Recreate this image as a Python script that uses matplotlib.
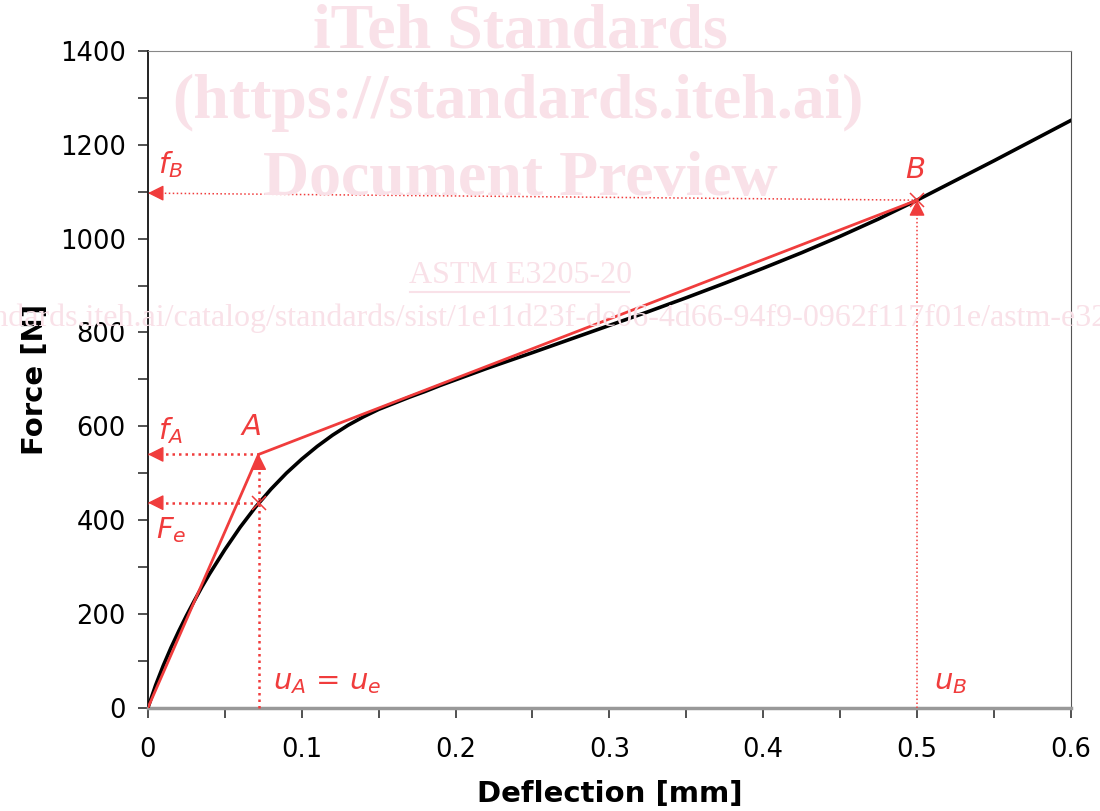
"""
Force-deflection curve with the A / B construction points (ASTM E3205 style)
"""

import matplotlib.pyplot as plt
from matplotlib.ticker import MultipleLocator

plt.rcParams["mathtext.fontset"] = "dejavusans"

# measured curve
deflection = [0, 0.005, 0.01, 0.015, 0.02, 0.025, 0.03, 0.035, 0.04, 0.05, 0.06, 0.07,
              0.08, 0.09, 0.1, 0.11, 0.12, 0.13, 0.14, 0.15, 0.16, 0.17, 0.18, 0.19,
              0.2, 0.22, 0.25, 0.275, 0.3, 0.325, 0.35, 0.375, 0.4, 0.425, 0.45, 0.475,
              0.5, 0.55, 0.6]
force = [0, 48, 90, 128, 163, 196, 227, 257, 285, 337, 385, 428,
         466, 500, 530, 557, 581, 602, 620, 636, 649, 662, 674, 687,
         699, 723, 757, 786, 815, 844, 874, 905, 937, 970, 1005, 1042,
         1082, 1166, 1252]

# construction points
u_A = 0.072
f_A = 540
F_e = 437
u_B = 0.5
f_B = 1082
f_B_axis = 1097  # where the f_B arrow meets the axis

RED = "#f03c3c"
PINK = "#f9e1e8"

fig = plt.figure(figsize=(11, 8.11), dpi=100)
ax = fig.add_axes([0.1345, 0.1274, 0.839, 0.8097])
ax.patch.set_alpha(0)

# watermark
wm = dict(family="Liberation Serif", color=PINK, ha="center", va="center", zorder=0)
fig.text(0.473, 0.960, "iTeh Standards", fontweight="bold", fontsize=46, **wm)
fig.text(0.471, 0.873, "(https://standards.iteh.ai)", fontweight="bold", fontsize=46, **wm)
fig.text(0.473, 0.778, "Document Preview", fontweight="bold", fontsize=46, **wm)
fig.text(0.473, 0.660, "ASTM E3205-20", fontsize=23, **wm)
fig.add_artist(plt.Line2D([0.373, 0.572], [0.640, 0.640], color=PINK, lw=1.5, zorder=0))
fig.text(0.478, 0.607,
         "https://standards.iteh.ai/catalog/standards/sist/1e11d23f-de06-4d66-94f9-0962f117f01e/astm-e3205-20",
         fontsize=23, **wm)

# curve
ax.plot(deflection, force, color="black", lw=2.6, zorder=3)

# bilinear construction
ax.plot([0, u_A, u_B], [0, f_A, f_B], color=RED, lw=2, zorder=4)


# dotted guides with solid arrow heads
def guide(x0, y0, x1, y1, lw, back):
    ax.plot([x0, x1], [y0, y1], color=RED, lw=lw, linestyle=(0, (1, 1.6)), zorder=5,
            clip_on=False)
    ax.annotate("", xy=(x1, y1), xytext=back, textcoords="offset points",
                annotation_clip=False, zorder=6,
                arrowprops=dict(arrowstyle="-|>,head_length=0.8,head_width=0.4", color=RED,
                                lw=1, mutation_scale=12, shrinkA=0, shrinkB=0))


guide(u_A, f_A, 0, f_A, 1.8, (9, 0))
guide(u_A, F_e, 0, F_e, 1.8, (9, 0))
guide(u_A, 0, u_A, f_A, 1.8, (0, -9))
guide(u_B, f_B, 0, f_B_axis, 1.1, (9, 0))
guide(u_B, 0, u_B, f_B, 1.1, (0, -9))

ax.plot([u_A, u_B], [F_e, f_B], linestyle="none", marker="x", markersize=10,
        markeredgewidth=1.1, color=RED, zorder=6)

# labels
lbl = dict(color=RED, fontsize=21, va="center")
ax.text(0.0065, 1157, "$f_B$", **lbl)
ax.text(0.499, 1146, "$B$", ha="center", **lbl)
ax.text(0.0065, 590, "$f_A$", **lbl)
ax.text(0.067, 598, "$A$", ha="center", **lbl)
ax.text(0.0055, 379, "$F_e$", **lbl)
ax.text(0.0815, 55, "$u_A$ = $u_e$", **lbl)
ax.text(0.511, 55, "$u_B$", **lbl)

ax.set_xlim(0, 0.6)
ax.set_ylim(0, 1400)
ax.xaxis.set_major_locator(MultipleLocator(0.1))
ax.xaxis.set_minor_locator(MultipleLocator(0.05))
ax.yaxis.set_major_locator(MultipleLocator(200))
ax.yaxis.set_minor_locator(MultipleLocator(100))
ax.xaxis.set_major_formatter(plt.FuncFormatter(lambda v, p: "0" if v == 0 else f"{v:.1f}"))
ax.tick_params(which="both", direction="out", length=7, width=1.2, colors="#333333",
               labelsize=18.5, labelcolor="black")
ax.tick_params(axis="x", pad=14)
ax.tick_params(axis="y", pad=9)

ax.spines["bottom"].set_color("#999999")
ax.spines["bottom"].set_linewidth(2.5)
ax.spines["left"].set_color("#222222")
ax.spines["left"].set_linewidth(1.4)
ax.spines["top"].set_color("#888888")
ax.spines["right"].set_color("#555555")

ax.set_xlabel("Deflection [mm]", fontsize=21, fontweight="bold", labelpad=12)
ax.set_ylabel("Force [N]", fontsize=21, fontweight="bold", labelpad=8)

fig.savefig("out.png", dpi=100)
